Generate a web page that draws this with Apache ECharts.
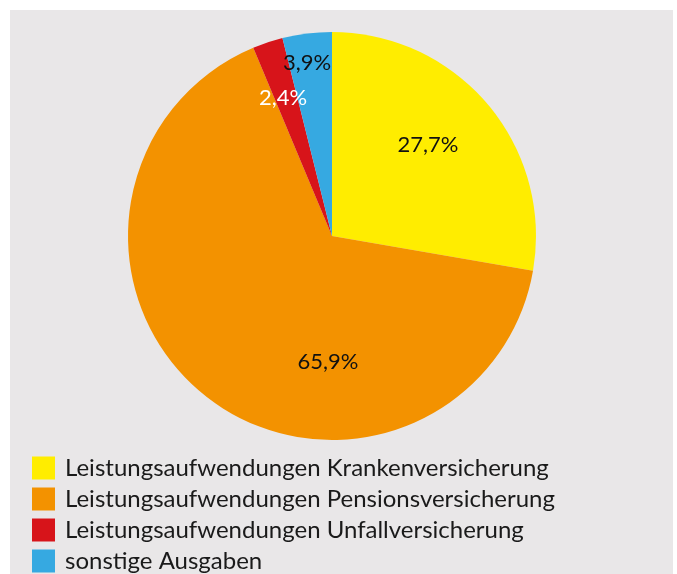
<!DOCTYPE html>
<html><head><meta charset="utf-8">
<script src="https://cdn.jsdelivr.net/npm/echarts@6/dist/echarts.min.js"></script>
<style>html,body{margin:0;padding:0;background:#fff}#c{width:677px;height:574px}</style>
</head><body><div id="c"></div>
<script>
const categories = ['Leistungsaufwendungen Krankenversicherung','Leistungsaufwendungen Pensionsversicherung','Leistungsaufwendungen Unfallversicherung','sonstige Ausgaben'];
const values = [27.7, 65.9, 2.4, 3.9];
const colors = ['#ffed00','#f39200','#d7141a','#36a9e1'];
const labelColors = ['#111','#111','#fff','#111'];
const labelPos = [[428,145],[328,362],[283,98],[307,63]];
const chart = echarts.init(document.getElementById('c'));
chart.setOption({
  animation:false,
  graphic:[{type:'rect',shape:{x:10,y:10,width:663,height:570},style:{fill:'#e9e7e8'},z:-10}],
  legend:{orient:'vertical',left:32,top:456,padding:0,height:200,itemWidth:23,itemHeight:23,itemGap:7,icon:'rect',
    textStyle:{fontSize:24,lineHeight:23,color:'#1a1a1a',fontFamily:'Lato',padding:[0,0,0,5]},data:categories},
  series:[{type:'pie',center:[332,236],radius:[0,204],startAngle:90,clockwise:true,
    label:{show:true,position:'inside',fontSize:22,fontFamily:'Lato',
      formatter:p=>p.value.toFixed(1).replace('.',',')+'%'},
    labelLine:{show:false},
    labelLayout:p=>({x:labelPos[p.dataIndex][0],y:labelPos[p.dataIndex][1],align:'center',verticalAlign:'middle'}),
    emphasis:{disabled:true},
    data:categories.map((n,i)=>({name:n,value:values[i],itemStyle:{color:colors[i]},label:{color:labelColors[i]}}))
  }]
});
</script></body></html>
